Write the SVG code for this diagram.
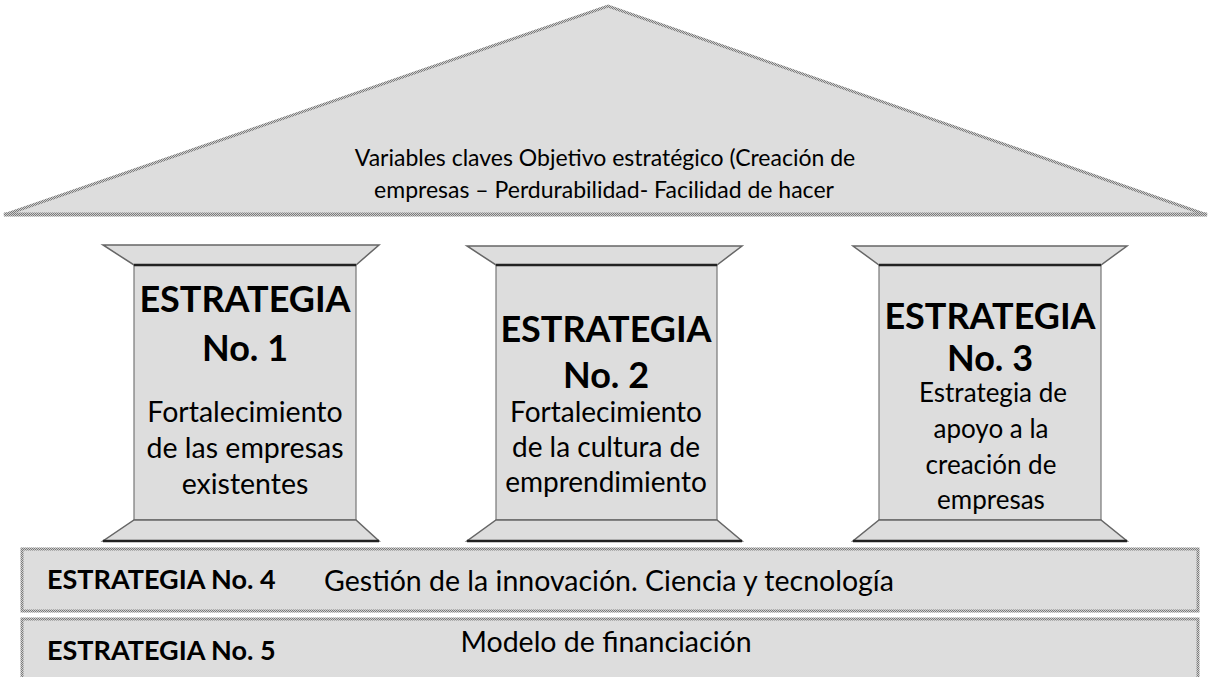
<svg xmlns="http://www.w3.org/2000/svg" width="1209" height="677" viewBox="0 0 1209 677">
<defs>
<pattern id="dots" width="2" height="2" patternUnits="userSpaceOnUse">
<rect width="2" height="2" fill="#cfcfcf"/>
<rect width="1" height="1" fill="#7a7a7a"/>
<rect x="1" y="1" width="1" height="1" fill="#7a7a7a"/>
</pattern>
</defs>
<style>
.roof{fill:#dddddd;stroke:url(#dots);stroke-width:3;stroke-linejoin:miter}
.band{fill:#dddddd;stroke:url(#dots);stroke-width:3}
.cap{fill:#dddddd;stroke:#666;stroke-width:1.5}
.shaft{fill:#dddddd;stroke:#777;stroke-width:1.2}
.dark{stroke:#222;stroke-width:2.5;fill:none}
.t{font-family:Lato,"Liberation Sans",sans-serif;fill:#000;text-anchor:middle}
.s{text-anchor:start}
.b{font-weight:bold}
</style>
<rect width="1209" height="677" fill="#fff"/>
<g id="roof">
<polygon class="roof" points="4,215 608,6 1207,215"/>
<line x1="4" y1="214" x2="1207" y2="214" stroke="url(#dots)" stroke-width="3"/>
<text class="t" x="605" y="166" font-size="23">Variables claves Objetivo estratégico (Creación de</text>
<text class="t" x="604" y="198" font-size="23">empresas – Perdurabilidad- Facilidad de hacer</text>
</g>
<g id="pillar1">
<polygon class="cap" points="103,245 379,245 356,265 134,265"/>
<rect class="shaft" x="134" y="265" width="222" height="255"/>
<polygon class="cap" points="134,520 356,520 379,541 103,541"/>
<line class="dark" x1="134" y1="265" x2="356" y2="265"/>
<line class="dark" x1="103" y1="541" x2="379" y2="541"/>
<text class="t b" x="245" y="312" font-size="36">ESTRATEGIA</text>
<text class="t b" x="245" y="361" font-size="36">No. 1</text>
<text class="t" x="245" y="422" font-size="28.5">Fortalecimiento</text>
<text class="t" x="245" y="458" font-size="28.5">de las empresas</text>
<text class="t" x="245" y="494" font-size="28.5">existentes</text>
</g>
<g id="pillar2">
<polygon class="cap" points="467,246 742,246 717,265 496,265"/>
<rect class="shaft" x="496" y="265" width="221" height="255"/>
<polygon class="cap" points="496,520 717,520 742,541 467,541"/>
<line class="dark" x1="496" y1="265" x2="717" y2="265"/>
<line class="dark" x1="467" y1="541" x2="742" y2="541"/>
<text class="t b" x="606" y="342" font-size="36">ESTRATEGIA</text>
<text class="t b" x="606" y="388" font-size="36">No. 2</text>
<text class="t" x="606" y="422" font-size="28">Fortalecimiento</text>
<text class="t" x="606" y="457" font-size="28">de la cultura de</text>
<text class="t" x="606" y="492" font-size="28">emprendimiento</text>
</g>
<g id="pillar3">
<polygon class="cap" points="853,246 1127,246 1101,265 879,265"/>
<rect class="shaft" x="879" y="265" width="222" height="255"/>
<polygon class="cap" points="879,520 1101,520 1127,541 853,541"/>
<line class="dark" x1="879" y1="265" x2="1101" y2="265"/>
<line class="dark" x1="853" y1="541" x2="1127" y2="541"/>
<text class="t b" x="990" y="329" font-size="36">ESTRATEGIA</text>
<text class="t b" x="990" y="371" font-size="36">No. 3</text>
<text class="t" x="993" y="402" font-size="26">Estrategia de</text>
<text class="t" x="991" y="438" font-size="26">apoyo a la</text>
<text class="t" x="991" y="474" font-size="26">creación de</text>
<text class="t" x="991" y="509" font-size="26">empresas</text>
</g>
<g id="band4">
<rect class="band" x="22" y="549" width="1176" height="62"/>
<text class="t b s" x="47" y="589" font-size="27">ESTRATEGIA No. 4</text>
<text class="t" x="609" y="591" font-size="28.5">Gestión de la innovación. Ciencia y tecnología</text>
</g>
<g id="band5">
<rect class="band" x="22" y="619" width="1176" height="70"/>
<text class="t b s" x="47" y="660" font-size="27">ESTRATEGIA No. 5</text>
<text class="t" x="606" y="652" font-size="28.5">Modelo de financiación</text>
</g>
<g id="connectors"/>
</svg>
